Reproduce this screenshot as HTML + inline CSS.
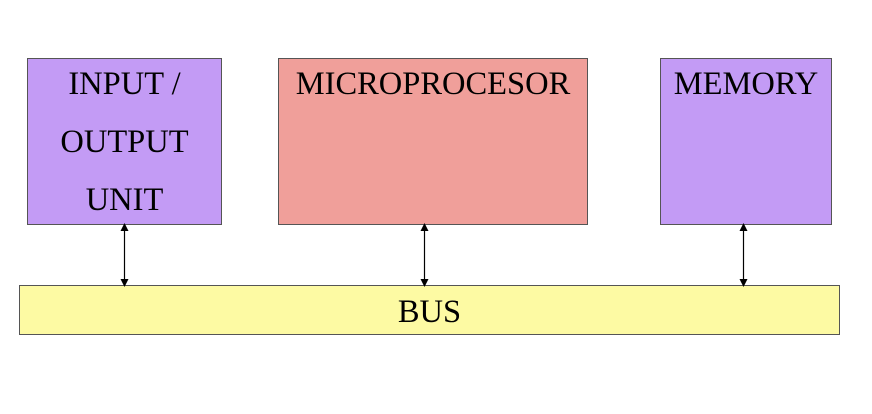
<!DOCTYPE html>
<html><head><style>
body{margin:0;width:872px;height:414px;background:#fff;position:relative;overflow:hidden;font-family:"Liberation Serif",serif;}
.b{position:absolute;box-sizing:border-box;border:1px solid #555;text-align:center;font-size:32.5px;color:#000;}
.b span{position:relative;top:-4px;}
</style></head><body>
<div class="b" style="left:27px;top:58px;width:195px;height:167px;background:#c39bf5;line-height:58px;"><span>INPUT /<br>OUTPUT<br>UNIT</span></div>
<div class="b" style="left:278px;top:58px;width:310px;height:167px;background:#f09f9a;line-height:58px;"><span>MICROPROCESOR</span></div>
<div class="b" style="left:660px;top:58px;width:172px;height:167px;background:#c39bf5;line-height:58px;"><span>MEMORY</span></div>
<div class="b" style="left:19px;top:285px;width:821px;height:50px;background:#fdfaa3;line-height:52px;">BUS</div>
<svg width="872" height="414" style="position:absolute;left:0;top:0">
<defs><marker id="a" markerWidth="8" markerHeight="8" refX="4" refY="4" orient="auto-start-reverse" markerUnits="userSpaceOnUse"><path d="M0,0 L8,4 L0,8 z" fill="#000"/></marker></defs>
<g stroke="#000" stroke-width="1.2">
<line x1="124.5" y1="227" x2="124.5" y2="283" marker-start="url(#a)" marker-end="url(#a)"/>
<line x1="424.5" y1="227" x2="424.5" y2="283" marker-start="url(#a)" marker-end="url(#a)"/>
<line x1="743.5" y1="227" x2="743.5" y2="283" marker-start="url(#a)" marker-end="url(#a)"/>
</g></svg>
</body></html>
